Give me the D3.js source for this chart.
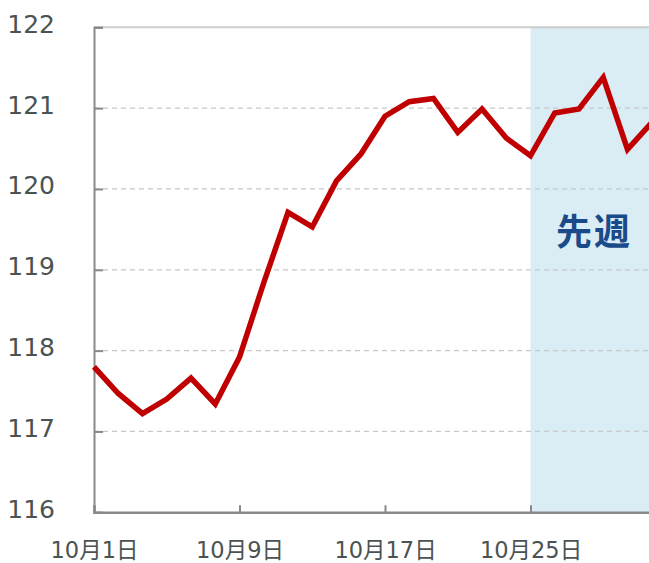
<!DOCTYPE html>
<html>
<head>
<meta charset="utf-8">
<script src="https://cdn.jsdelivr.net/npm/d3@7"></script>
<style>
  html, body { margin: 0; padding: 0; background: #fff; overflow: hidden; }
  svg { display: block; }
</style>
</head>
<body>
<svg id="chart" width="649" height="563"></svg>
<script>
// ---- data ----
const categories = ["10/1","10/2","10/3","10/4","10/5","10/8","10/9","10/10","10/11","10/12",
  "10/15","10/16","10/17","10/18","10/19","10/22","10/23","10/24","10/25","10/26",
  "10/29","10/30","10/31","11/1"];
const values = [117.80, 117.47, 117.22, 117.40, 117.66, 117.34, 117.92, 118.84, 119.71, 119.53,
  120.10, 120.43, 120.90, 121.08, 121.12, 120.70, 120.99, 120.63, 120.41, 120.94,
  120.99, 121.38, 120.49, 120.82];
const xTickCats = ["10/1", "10/9", "10/17", "10/25"];
const xTickLabels = ["10月1日", "10月9日", "10月17日", "10月25日"];
const yTicks = [116, 117, 118, 119, 120, 121, 122];
const highlightStart = "10/25";
const highlightLabel = "先週";

// ---- layout ----
const svg = d3.select("#chart");
const mLeft = 94, mTop = 27.3, mBottom = 512.3;
const step = 24.25;
const x = d3.scalePoint().domain(categories).range([mLeft, mLeft + step * (categories.length - 1)]);
const y = d3.scaleLinear().domain([116, 122]).range([mBottom, mTop]);
const plotRight = 660;

// highlight band
svg.append("rect")
  .attr("x", x(highlightStart)).attr("y", mTop)
  .attr("width", plotRight - x(highlightStart)).attr("height", mBottom - mTop)
  .attr("fill", "#daedf4");

svg.append("text")
  .attr("x", 594).attr("y", 229)
  .attr("text-anchor", "middle").attr("dominant-baseline", "central")
  .attr("font-family", "'Noto Sans CJK JP', sans-serif")
  .attr("font-weight", "bold").attr("font-size", 36)
  .attr("letter-spacing", 2)
  .attr("fill", "#1b4a8a")
  .text(highlightLabel);

// gridlines
svg.append("g").selectAll("line")
  .data(yTicks.filter(v => v > 116 && v < 122))
  .join("line")
  .attr("x1", mLeft).attr("x2", plotRight)
  .attr("y1", d => y(d)).attr("y2", d => y(d))
  .attr("stroke", "#c8c8c8").attr("stroke-width", 1.3)
  .attr("stroke-dasharray", "5,4");

// top border
svg.append("line")
  .attr("x1", mLeft).attr("x2", plotRight)
  .attr("y1", y(122)).attr("y2", y(122))
  .attr("stroke", "#cdcdcd").attr("stroke-width", 2);

// y axis
const yAxis = svg.append("g")
  .attr("transform", `translate(${mLeft},0)`)
  .call(d3.axisLeft(y).tickValues(yTicks).tickSize(-9).tickPadding(39).tickFormat(d3.format("d")));
yAxis.select(".domain").attr("stroke", "#898989").attr("stroke-width", 2);
yAxis.selectAll(".tick line").attr("stroke", "#898989").attr("stroke-width", 2);
yAxis.selectAll(".tick text")
  .attr("font-family", "'DejaVu Sans', Verdana, sans-serif")
  .attr("font-size", 25).attr("fill", "#4a5352")
  .attr("dy", "0.2em");

// x axis
const xAxis = svg.append("g")
  .attr("transform", `translate(0,${mBottom})`)
  .call(d3.axisBottom(x).tickValues(xTickCats).tickSize(-7)
    .tickFormat(d => xTickLabels[xTickCats.indexOf(d)]));
xAxis.select(".domain").attr("stroke", "#898989").attr("stroke-width", 2.4);
xAxis.selectAll(".tick line").attr("stroke", "#898989").attr("stroke-width", 2);
xAxis.selectAll(".tick text")
  .attr("y", 46).attr("dy", 0)
  .attr("font-family", "'DejaVu Sans', 'Noto Sans CJK JP', sans-serif")
  .attr("font-size", 22.5).attr("fill", "#4a5352");

// line
svg.append("path")
  .datum(values)
  .attr("fill", "none")
  .attr("stroke", "#c00000")
  .attr("stroke-width", 5.5)
  .attr("stroke-linejoin", "miter")
  .attr("d", d3.line().x((d, i) => x(categories[i])).y(d => y(d)));
</script>
</body>
</html>
